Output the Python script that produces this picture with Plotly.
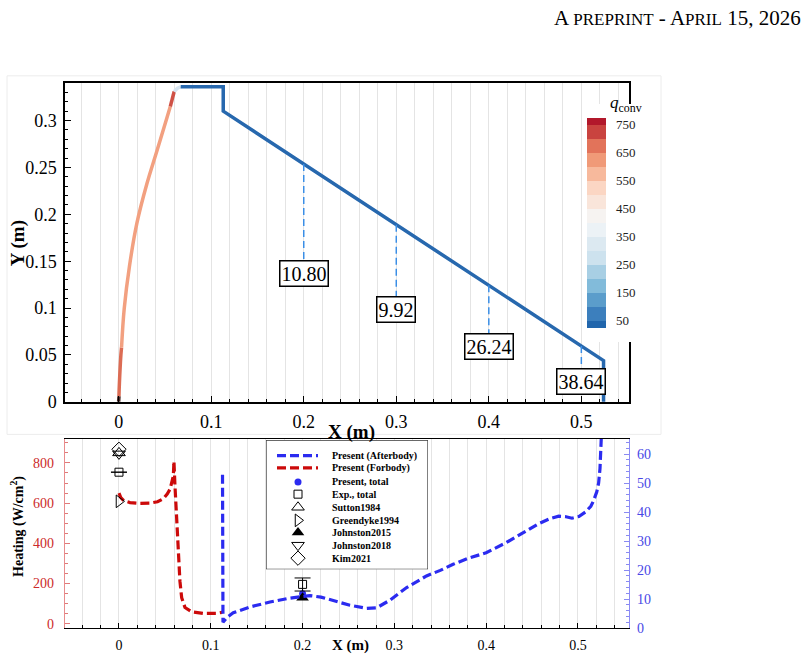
import numpy as np
import plotly.graph_objects as go

W, H = 807, 666
SERIF = "Liberation Serif"
GRID = "#e4e4e4"

def fx(px):
    return px / W

def fy(py):
    return 1 - py / H

# ---------------- data: top panel (geometry, q_conv colouring) ----------------
fore_x = [0.0, 0.0003, 0.0008, 0.0024, 0.0031, 0.006, 0.0117, 0.0197, 0.0305, 0.0413, 0.052, 0.0558, 0.060]
fore_y = [0.0, 0.006, 0.02, 0.05, 0.058, 0.0995, 0.145, 0.1905, 0.2325, 0.2675, 0.3025, 0.315, 0.331]
fore_seg_colors = ["#4a2a26", "#dc6c54", "#dc6c54", "#dc6c54",
                   "#f2a080", "#f2a080", "#f2a080", "#f2a080", "#f2a080", "#f2a080", "#f2a080",
                   "#cf5146"]
trans_x = [0.060, 0.0635, 0.067]
trans_y = [0.331, 0.3345, 0.336]
after_x = [0.067, 0.113, 0.113, 0.524, 0.524]
after_y = [0.336, 0.336, 0.310, 0.044, 0.0]

probe_x = [0.2, 0.3, 0.4, 0.5]
probe_text = ["10.80", "9.92", "26.24", "38.64"]
probe_label_y = [0.1366, 0.0987, 0.0588, 0.0222]

cb_edges = [25, 50, 100, 150, 200, 250, 300, 350, 400, 450, 500, 550, 600, 650, 700, 750, 775]
cb_colors = ["#2166ac", "#3c7fbd", "#5b9dcb", "#82bbda", "#a8cfe4", "#cde2ee", "#dce9f1",
             "#ecf2f6", "#f6f3f1", "#f9e5da", "#fbd6c3", "#f7b99c", "#f09a78", "#e2735a",
             "#c9433f", "#b2182b"]
cb_tickvals = [50, 150, 250, 350, 450, 550, 650, 750]
cb_ticktext = ["50", "150", "250", "350", "450", "550", "650", "750"]

x_tickvals = [0, 0.1, 0.2, 0.3, 0.4, 0.5]
x_ticktext = ["0", "0.1", "0.2", "0.3", "0.4", "0.5"]
y_tickvals = [0, 0.05, 0.1, 0.15, 0.2, 0.25, 0.3]
y_ticktext = ["0", "0.05", "0.1", "0.15", "0.2", "0.25", "0.3"]

# ---------------- data: bottom panel (heating) ----------------
fore_heat_x = [0.0, 0.002, 0.0054, 0.012, 0.0229, 0.0338, 0.042, 0.0483, 0.0525, 0.0556, 0.0592,
               0.0599, 0.061, 0.0628, 0.0646, 0.0664, 0.0683, 0.0719, 0.0792, 0.0918, 0.1064, 0.1125]
fore_heat_y = [650, 628, 612, 603, 599, 600, 607, 622, 645, 669, 735,
               808, 686, 539, 375, 212, 130, 81, 60, 52, 52, 57]
after_heat_x = [0.1128, 0.1133, 0.118, 0.1245, 0.1427, 0.1645, 0.185, 0.2, 0.208, 0.22, 0.2334,
                0.2516, 0.2698, 0.2807, 0.295, 0.3134, 0.335, 0.35, 0.364, 0.38, 0.4, 0.4208,
                0.44, 0.457, 0.47, 0.479, 0.487, 0.4935, 0.501, 0.508, 0.514, 0.517, 0.5205,
                0.5225, 0.524, 0.525, 0.5256]
after_heat_y = [52.9, 2.0, 3.8, 5.3, 7.3, 9.0, 10.3, 11.0, 11.2, 10.7, 9.6,
                7.9, 6.8, 7.0, 9.6, 14.0, 18.0, 19.9, 22.0, 24.0, 26.0, 29.3,
                32.8, 36.0, 37.8, 38.6, 38.4, 37.9, 38.5, 40.0, 42.0, 43.9, 47.0,
                50.0, 55.0, 62.0, 67.0]

present_total_x = [0.2]
present_total_y = [150]
exp_total_x = [0.0, 0.2]
exp_total_y = [754, 196]
exp_total_err_plus = [None, 32]
exp_total_err_minus = [None, 33]
sutton_x, sutton_y = [0.0], [850]
greendyke_x, greendyke_y = [0.0], [609]
johnston2015_x, johnston2015_y = [0.2], [130]
johnston2018_x, johnston2018_y = [0.0], [845]
kim_x, kim_y = [0.0], [868]

left_tickvals = [0, 200, 400, 600, 800]
left_ticktext = ["0", "200", "400", "600", "800"]
right_tickvals = [0, 10, 20, 30, 40, 50, 60]
right_ticktext = ["0", "10", "20", "30", "40", "50", "60"]

legend_names = ["Present (Afterbody)", "Present (Forbody)", "Present, total", "Exp., total",
                "Sutton1984", "Greendyke1994", "Johnston2015", "Johnston2018", "Kim2021"]

# ---------------- styles ----------------
BLUE_H = "#2b2bf0"
RED_H = "#cc0a0a"
marker_styles = {
    "Present, total": dict(symbol="circle", size=7, color="#2b2bf0", line=dict(width=0)),
    "Exp., total": dict(symbol="square-open", size=8, color="black", line=dict(width=1)),
    "Sutton1984": dict(symbol="triangle-up-open", size=11, color="black", line=dict(width=1)),
    "Greendyke1994": dict(symbol="triangle-right-open", size=11, color="black", line=dict(width=1)),
    "Johnston2015": dict(symbol="triangle-up", size=11, color="black", line=dict(width=0)),
    "Johnston2018": dict(symbol="triangle-down-open", size=11, color="black", line=dict(width=1)),
    "Kim2021": dict(symbol="diamond-open", size=11, color="black", line=dict(width=1)),
}

fig = go.Figure()

# ---- top: forebody geometry segments coloured by q_conv ----
i = 0
nseg = len(fore_seg_colors)
while i < nseg:
    j = i
    while j + 1 < nseg and fore_seg_colors[j + 1] == fore_seg_colors[i]:
        j += 1
    fig.add_trace(go.Scatter(x=fore_x[i:j + 2], y=fore_y[i:j + 2], mode="lines",
                             line=dict(color=fore_seg_colors[i], width=3.5, shape="spline"),
                             xaxis="x", yaxis="y", showlegend=False, hoverinfo="skip"))
    i = j + 1

fig.add_trace(go.Scatter(x=trans_x, y=trans_y, mode="lines", line=dict(color="#d6e4f0", width=3.5),
                         xaxis="x", yaxis="y", showlegend=False, hoverinfo="skip"))
fig.add_trace(go.Scatter(x=after_x, y=after_y, mode="lines", line=dict(color="#2768ae", width=3.5),
                         xaxis="x", yaxis="y", showlegend=False, hoverinfo="skip"))

# probe lines
probe_top = np.interp(probe_x, after_x[2:4], after_y[2:4])
for px_, top_, lab_y in zip(probe_x, probe_top, probe_label_y):
    fig.add_trace(go.Scatter(x=[px_, px_], y=[top_, lab_y], mode="lines",
                             line=dict(color="#3a8ee6", width=1.5, dash="7px,4px"),
                             xaxis="x", yaxis="y", showlegend=False, hoverinfo="skip"))

# colorbar (discrete)
colorscale = []
span = cb_edges[-1] - cb_edges[0]
for k, c in enumerate(cb_colors):
    lo = (cb_edges[k] - cb_edges[0]) / span
    hi = (cb_edges[k + 1] - cb_edges[0]) / span
    colorscale.append([lo, c])
    colorscale.append([hi, c])
CB_YPAD = 14
fig.add_trace(go.Scatter(
    x=[None], y=[None], mode="markers", xaxis="x", yaxis="y", showlegend=False, hoverinfo="skip",
    marker=dict(color=[cb_edges[0]], cmin=cb_edges[0], cmax=cb_edges[-1], colorscale=colorscale,
                showscale=True,
                colorbar=dict(x=fx(582), xanchor="left", xpad=5, y=fy(226), yanchor="middle",
                              len=210 + 2 * CB_YPAD, lenmode="pixels", thickness=19, thicknessmode="pixels",
                              ypad=CB_YPAD, outlinewidth=0, bgcolor="white",
                              tickmode="array", tickvals=cb_tickvals, ticktext=cb_ticktext,
                              ticks="outside", ticklen=8, tickcolor="rgba(0,0,0,0)",
                              tickfont=dict(family=SERIF, size=13, color="#222")))))

# ---- bottom: heating ----
fig.add_trace(go.Scatter(x=fore_heat_x, y=fore_heat_y, mode="lines",
                         line=dict(color=RED_H, width=3.2, dash="9px,4px"),
                         xaxis="x2", yaxis="y2", showlegend=False, name=legend_names[1]))
fig.add_trace(go.Scatter(x=after_heat_x, y=after_heat_y, mode="lines",
                         line=dict(color=BLUE_H, width=3.2, dash="9px,4px"),
                         xaxis="x2", yaxis="y3", showlegend=False, name=legend_names[0]))

fig.add_trace(go.Scatter(x=present_total_x, y=present_total_y, mode="markers",
                         marker=marker_styles["Present, total"], xaxis="x2", yaxis="y2",
                         showlegend=False, name="Present, total"))
fig.add_trace(go.Scatter(x=exp_total_x, y=exp_total_y, mode="markers",
                         marker=marker_styles["Exp., total"], xaxis="x2", yaxis="y2",
                         error_y=dict(type="data", array=exp_total_err_plus, arrayminus=exp_total_err_minus,
                                      color="black", thickness=1, width=8),
                         showlegend=False, name="Exp., total"))
for nm, xs, ys in [("Sutton1984", sutton_x, sutton_y), ("Greendyke1994", greendyke_x, greendyke_y),
                   ("Johnston2015", johnston2015_x, johnston2015_y),
                   ("Johnston2018", johnston2018_x, johnston2018_y), ("Kim2021", kim_x, kim_y)]:
    fig.add_trace(go.Scatter(x=xs, y=ys, mode="markers", marker=marker_styles[nm],
                             xaxis="x2", yaxis="y2", showlegend=False, name=nm))

# ---- manual legend (own small axes, pixel-like coordinates) ----
LEG_W, LEG_H = 162, 131
legend_rows = [15.5, 28, 42.3, 54.7, 68, 81.3, 93.5, 106.5, 119.7]
sample_x0, sample_x1, sample_xc, text_x = 11, 52, 32, 64
fig.add_shape(type="rect", xref="x3", yref="y4", x0=0, x1=LEG_W, y0=0, y1=LEG_H,
              line=dict(color="black", width=1), fillcolor="white", layer="below")
for nm, ry in zip(legend_names, legend_rows):
    if nm == "Present (Afterbody)":
        fig.add_trace(go.Scatter(x=[sample_x0, sample_x1], y=[ry, ry], mode="lines",
                                 line=dict(color=BLUE_H, width=3.2, dash="9px,4px"),
                                 xaxis="x3", yaxis="y4", showlegend=False, hoverinfo="skip"))
    elif nm == "Present (Forbody)":
        fig.add_trace(go.Scatter(x=[sample_x0, sample_x1], y=[ry, ry], mode="lines",
                                 line=dict(color=RED_H, width=3.2, dash="9px,4px"),
                                 xaxis="x3", yaxis="y4", showlegend=False, hoverinfo="skip"))
    else:
        fig.add_trace(go.Scatter(x=[sample_xc], y=[ry], mode="markers", marker=marker_styles[nm],
                                 xaxis="x3", yaxis="y4", showlegend=False, hoverinfo="skip"))
    fig.add_annotation(x=text_x, y=ry, xref="x3", yref="y4", text=nm, showarrow=False,
                       xanchor="left", yanchor="middle",
                       font=dict(family=SERIF, size=10, color="black", weight="bold"))

# ---- probe value boxes ----
for px_, lab_y, txt in zip(probe_x, probe_label_y, probe_text):
    fig.add_annotation(x=px_, y=lab_y, xref="x", yref="y", text=txt, showarrow=False,
                       font=dict(family=SERIF, size=20, color="black"),
                       bgcolor="white", bordercolor="black", borderwidth=1.5, borderpad=1)

# ---- titles / header ----
fig.add_annotation(x=fx(351), y=fy(439), xref="paper", yref="paper", text="X (m)", showarrow=False,
                   xanchor="center", yanchor="middle",
                   font=dict(family=SERIF, size=19, color="black", weight="bold"))
fig.add_annotation(x=fx(18), y=fy(247), xref="paper", yref="paper", text="Y (m)", showarrow=False,
                   xanchor="center", yanchor="middle",
                   textangle=-90, font=dict(family=SERIF, size=19, color="black", weight="bold"))
fig.add_annotation(x=fx(350), y=fy(666), xref="paper", yref="paper", text="X (m)", showarrow=False,
                   xanchor="center", yanchor="bottom",
                   font=dict(family=SERIF, size=15, color="black", weight="bold"))
fig.add_annotation(x=fx(18), y=fy(535), xref="paper", yref="paper", text="Heating (W/cm<sup>2</sup>)",
                   showarrow=False, textangle=-90, xanchor="center", yanchor="middle",
                   font=dict(family=SERIF, size=14, color="black", weight="bold"))
fig.add_annotation(x=fx(608), y=fy(106), xref="paper", yref="paper",
                   text="<i>q</i><sub>conv</sub>",
                   showarrow=False, xanchor="left", yanchor="middle",
                   font=dict(family=SERIF, size=17, color="black"))
fig.add_annotation(x=fx(803), y=fy(4), xref="paper", yref="paper",
                   text="A <span style=\"font-size:17px\">PREPRINT</span> - A<span style=\"font-size:17px\">PRIL</span> 15, 2026",
                   showarrow=False, xanchor="right", yanchor="top",
                   font=dict(family=SERIF, size=21, color="black"))

# light outer frame around top panel
fig.add_shape(type="rect", xref="paper", yref="paper", x0=fx(7), x1=fx(661), y0=fy(441), y1=fy(77),
              line=dict(color="#ececec", width=1), layer="below")

xminor = dict(tickmode="linear", tick0=0, dtick=0.02, ticks="inside", ticklen=3, tickcolor="black",
              showgrid=True, gridcolor=GRID, gridwidth=1)

fig.update_layout(
    width=W, height=H, autosize=False, margin=dict(l=0, r=0, t=0, b=0),
    paper_bgcolor="white", plot_bgcolor="white", showlegend=False,
    xaxis=dict(domain=[fx(65), fx(629)], range=[-0.058, 0.5515], anchor="y",
               tickmode="array", tickvals=x_tickvals, ticktext=x_ticktext,
               ticks="inside", ticklen=6, tickcolor="black", tickwidth=1.2,
               showline=True, linecolor="black", linewidth=1.5, mirror=True,
               showgrid=True, gridcolor=GRID, gridwidth=1, zeroline=False, minor=xminor,
               ticklabelstandoff=3,
               tickfont=dict(family=SERIF, size=18, color="black")),
    yaxis=dict(domain=[fy(408), fy(84)], range=[0, 0.3403], anchor="x",
               tickmode="array", tickvals=y_tickvals, ticktext=y_ticktext,
               ticks="inside", ticklen=6, tickcolor="black", tickwidth=1.2,
               showline=True, linecolor="black", linewidth=1.5, mirror=True,
               showgrid=False, zeroline=False, ticklabelstandoff=3,
               minor=dict(tickmode="linear", tick0=0, dtick=0.01, ticks="inside", ticklen=3,
                          tickcolor="black", showgrid=False),
               tickfont=dict(family=SERIF, size=18, color="black")),
    xaxis2=dict(domain=[fx(65), fx(629)], range=[-0.0588, 0.5556], anchor="y2",
                tickmode="array", tickvals=x_tickvals, ticktext=x_ticktext,
                ticks="inside", ticklen=5, tickcolor="black", tickwidth=1,
                showline=True, linecolor="black", linewidth=1.3, mirror=True,
                showgrid=True, gridcolor=GRID, gridwidth=1, zeroline=False, minor=xminor,
                ticklabelstandoff=4,
                tickfont=dict(family=SERIF, size=14, color="black")),
    yaxis2=dict(domain=[fy(637.7), fy(445.7)], range=[-21.5, 919], anchor="x2",
                tickmode="array", tickvals=left_tickvals, ticktext=left_ticktext,
                ticks="inside", ticklen=5, tickcolor="#e07a7a", tickwidth=1,
                showline=True, linecolor="#e88c8c", linewidth=1.3,
                showgrid=False, zeroline=False, ticklabelstandoff=7,
                minor=dict(tickmode="linear", tick0=0, dtick=50, ticks="inside", ticklen=3,
                           tickcolor="#e07a7a", showgrid=False),
                tickfont=dict(family=SERIF, size=14, color="#cc2a2a")),
    yaxis3=dict(overlaying="y2", anchor="x2", side="right", range=[0, 65.2],
                tickmode="array", tickvals=right_tickvals, ticktext=right_ticktext,
                ticks="inside", ticklen=5, tickcolor="#8a8af2", tickwidth=1,
                showline=True, linecolor="#8c8cf5", linewidth=1.3,
                showgrid=False, zeroline=False, ticklabelstandoff=4,
                minor=dict(tickmode="linear", tick0=0, dtick=2, ticks="inside", ticklen=3,
                           tickcolor="#8a8af2", showgrid=False),
                tickfont=dict(family=SERIF, size=14, color="#4848e6")),
    xaxis3=dict(domain=[fx(266), fx(428)], range=[0, LEG_W], anchor="y4", visible=False,
                fixedrange=True),
    yaxis4=dict(domain=[fy(578), fy(447)], range=[LEG_H, 0], anchor="x3", visible=False,
                fixedrange=True),
)

fig.write_html("out.html", config={"displayModeBar": False})
